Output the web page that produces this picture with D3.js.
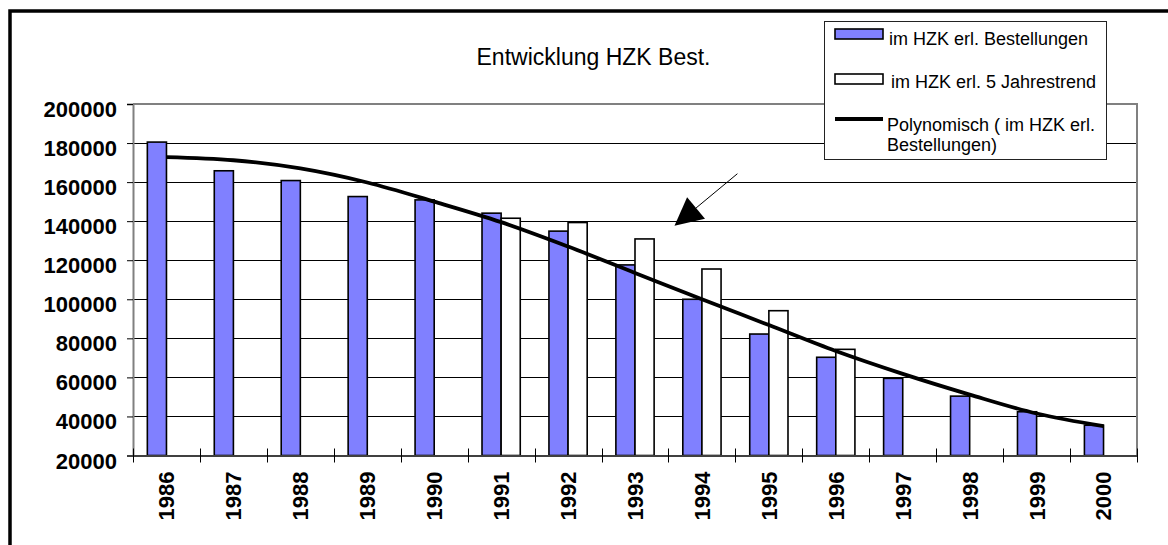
<!DOCTYPE html>
<html><head><meta charset="utf-8">
<script src="https://cdn.jsdelivr.net/npm/d3@7"></script>
<style>
html,body{margin:0;padding:0;background:#fff;}
svg{display:block;font-family:Arial,"Liberation Sans",sans-serif;}
</style>
</head><body>
<svg id="c" width="1168" height="545"></svg>
<script>
// ---- data ----
const years = ["1986","1987","1988","1989","1990","1991","1992","1993","1994","1995","1996","1997","1998","1999","2000"];
const bestellungen = [180500,165800,160800,152600,150900,144100,134900,117600,100000,82200,70300,59500,50400,42400,35500];
const jahresTrend5 = [null,null,null,null,null,141500,139300,130900,115500,94150,74360,null,null,null,null];
const polyTrend = [172800,171200,167000,159800,150000,139500,127000,113500,100000,86800,73500,61800,51200,41500,35000];
const yTicks = [20000,40000,60000,80000,100000,120000,140000,160000,180000,200000];
const chartTitle = "Entwicklung HZK Best.";
const legendLabels = ["im HZK erl. Bestellungen","im HZK erl. 5 Jahrestrend",["Polynomisch ( im HZK erl.","Bestellungen)"]];
// arrow annotation in data units (category position, value)
const arrowFrom = [9.03, 164300];
const arrowTo = [8.09, 137600];

// ---- layout ----
const P = {left:133, right:1137, top:104, bottom:455.5};
const blue = "#8080FF";
const svg = d3.select("#c");

const x = d3.scaleBand().domain(years).range([P.left, P.right]).padding(0);
const pos = d3.scaleLinear().domain([0, years.length]).range([P.left, P.right]);
const y = d3.scaleLinear().domain([20000, 200000]).range([P.bottom, P.top]);
const bw = x.bandwidth() / 3.5;
const cx = d => x(d) + x.bandwidth() / 2;

// gridlines
svg.append("g").selectAll("line")
  .data(yTicks.filter(v => v > 20000 && v < 200000))
  .join("line")
  .attr("x1", P.left).attr("x2", P.right)
  .attr("y1", d => Math.round(y(d)) + 0.5).attr("y2", d => Math.round(y(d)) + 0.5)
  .attr("stroke", "#000").attr("stroke-width", 1);

// plot border (top, right)
svg.append("path")
  .attr("d", `M${P.left},${P.top}H${P.right}V${P.bottom}`)
  .attr("fill", "none").attr("stroke", "#808080").attr("stroke-width", 2);

// bars
svg.append("g").selectAll("rect")
  .data(years.map((yr, i) => ({yr, v: bestellungen[i]})))
  .join("rect")
  .attr("x", d => cx(d.yr) - bw).attr("width", bw)
  .attr("y", d => y(d.v)).attr("height", d => y(20000) - y(d.v))
  .attr("fill", blue).attr("stroke", "#000").attr("stroke-width", 1.6);

svg.append("g").selectAll("rect")
  .data(years.map((yr, i) => ({yr, v: jahresTrend5[i]})).filter(d => d.v != null))
  .join("rect")
  .attr("x", d => cx(d.yr)).attr("width", bw)
  .attr("y", d => y(d.v)).attr("height", d => y(20000) - y(d.v))
  .attr("fill", "#fff").attr("stroke", "#000").attr("stroke-width", 1.6);

// y axis
const yAxis = svg.append("g").attr("transform", `translate(${P.left},0)`)
  .call(d3.axisLeft(y).tickValues(yTicks).tickSize(6).tickPadding(10).tickFormat(d => String(d)));
yAxis.select(".domain").attr("stroke", "#808080").attr("stroke-width", 2);
yAxis.selectAll(".tick line").attr("stroke", "#000");
yAxis.selectAll("text").attr("font-size", 22).attr("font-weight", "bold").attr("fill", "#000")
  .attr("font-family", "Arial, 'Liberation Sans', sans-serif").attr("dy", "0.57em");

// x axis
const xAxis = svg.append("g").attr("transform", `translate(0,${P.bottom})`)
  .call(d3.axisBottom(x).tickSize(0).tickPadding(0));
xAxis.select(".domain").attr("stroke", "#404040").attr("stroke-width", 2);
xAxis.selectAll("text")
  .attr("font-size", 22).attr("font-weight", "bold").attr("fill", "#000")
  .attr("font-family", "Arial, 'Liberation Sans', sans-serif")
  .attr("transform", "rotate(-90)")
  .attr("text-anchor", "end")
  .attr("x", -16).attr("y", 0).attr("dy", "0.36em");
svg.append("g").selectAll("line")
  .data(d3.range(years.length + 1))
  .join("line")
  .attr("x1", d => Math.round(pos(d)) + 0.5).attr("x2", d => Math.round(pos(d)) + 0.5)
  .attr("y1", P.bottom - 7).attr("y2", P.bottom + 7)
  .attr("stroke", "#000").attr("stroke-width", 1);

// polynomial trend line
const line = d3.line()
  .x((d, i) => cx(years[i]))
  .y(d => y(d))
  .curve(d3.curveCatmullRom.alpha(0.5));
svg.append("path").datum(polyTrend)
  .attr("d", line)
  .attr("fill", "none").attr("stroke", "#000").attr("stroke-width", 3.8);

// arrow annotation
{
  const x0 = pos(arrowFrom[0]), y0 = y(arrowFrom[1]);
  const x1 = pos(arrowTo[0]), y1 = y(arrowTo[1]);
  const dx = x1 - x0, dy = y1 - y0, L = Math.hypot(dx, dy);
  const ux = dx / L, uy = dy / L, nx = -uy, ny = ux;
  const hl = 28, hw = 14;
  const bx = x1 - ux * hl, by = y1 - uy * hl;
  svg.append("line").attr("x1", x0).attr("y1", y0).attr("x2", bx).attr("y2", by)
    .attr("stroke", "#000").attr("stroke-width", 1);
  svg.append("path")
    .attr("d", `M${x1},${y1}L${bx + nx * hw},${by + ny * hw}L${bx - nx * hw},${by - ny * hw}Z`)
    .attr("fill", "#000");
}

// title
svg.append("text").attr("x", 593.5).attr("y", 65).attr("text-anchor", "middle")
  .attr("font-size", 23).attr("fill", "#000").text(chartTitle);

// legend
const lg = svg.append("g");
lg.append("rect").attr("x", 824.5).attr("y", 21.5).attr("width", 282).attr("height", 138)
  .attr("fill", "#fff").attr("stroke", "#222").attr("stroke-width", 1);
lg.append("rect").attr("x", 835).attr("y", 29).attr("width", 48).attr("height", 10)
  .attr("fill", blue).attr("stroke", "#000").attr("stroke-width", 1.6);
lg.append("rect").attr("x", 835).attr("y", 74).attr("width", 48).attr("height", 10)
  .attr("fill", "#fff").attr("stroke", "#000").attr("stroke-width", 1.6);
lg.append("line").attr("x1", 835).attr("x2", 883).attr("y1", 119).attr("y2", 119)
  .attr("stroke", "#000").attr("stroke-width", 3.8);
const lfs = 18;
lg.append("text").attr("x", 889).attr("y", 44.5).attr("font-size", lfs).text(legendLabels[0]);
lg.append("text").attr("x", 891).attr("y", 87.5).attr("font-size", lfs).text(legendLabels[1]);
lg.append("text").attr("x", 887).attr("y", 131).attr("font-size", lfs).text(legendLabels[2][0]);
lg.append("text").attr("x", 887).attr("y", 151).attr("font-size", lfs).text(legendLabels[2][1]);

// outer frame (left and top edges; right/bottom are outside the picture)
svg.append("path").attr("d", "M10,545V11H1168")
  .attr("fill", "none").attr("stroke", "#000").attr("stroke-width", 3.5);
</script>
</body></html>
